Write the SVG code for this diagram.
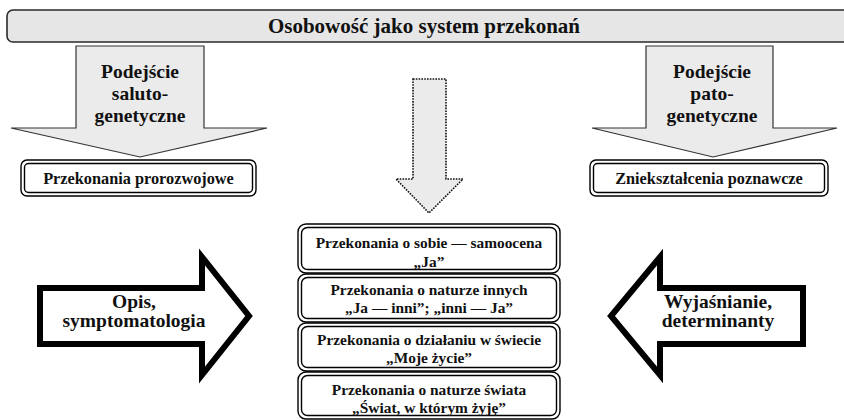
<svg xmlns="http://www.w3.org/2000/svg" width="844" height="420" viewBox="0 0 844 420">
  <style>
    text { font-family: "Liberation Serif", "DejaVu Serif", serif; font-weight: bold; fill: #111; text-anchor: middle; }
    .title { font-size: 21px; }
    .big { font-size: 19.5px; }
    .small { font-size: 16.3px; }
    .stack { font-size: 15.4px; }
    .grey-arrow { fill: #ebebeb; stroke: #333; stroke-width: 1.2; stroke-linejoin: miter; }
    .dotted-arrow { fill: #ebebeb; stroke: #111; stroke-width: 1.6; stroke-dasharray: 1.6 1.2; }
    .block-arrow { fill: #fff; stroke: #000; stroke-width: 6; stroke-linejoin: miter; stroke-miterlimit: 10; }
    .frame-out { fill: #fff; stroke: #000; stroke-width: 1.4; }
    .frame-in { fill: none; stroke: #000; stroke-width: 1.4; }
  </style>

  <!-- title bar -->
  <g id="title">
    <rect x="7" y="10" width="845" height="32" rx="6" fill="#e6e6e6" stroke="#2a2a2a" stroke-width="1.6"/>
    <text class="title" x="424" y="33">Osobowość jako system przekonań</text>
  </g>

  <!-- connectors: the large arrows -->
  <g id="connectors">
    <g id="arrow-saluto">
      <path class="grey-arrow" d="M76,46 L204,46 L204,128 L267,128 L140,157 L11,128 L76,128 Z"/>
      <text class="big" x="140" y="78">Podejście</text>
      <text class="big" x="140" y="100">saluto-</text>
      <text class="big" x="140" y="122">genetyczne</text>
    </g>
    <g id="arrow-pato">
      <path class="grey-arrow" d="M646,46 L773,46 L773,128 L837,128 L713,157 L592,128 L646,128 Z"/>
      <text class="big" x="712" y="78">Podejście</text>
      <text class="big" x="712" y="100">pato-</text>
      <text class="big" x="712" y="122">genetyczne</text>
    </g>
    <path id="arrow-center" class="dotted-arrow" d="M413,79 L446,79 L446,179 L463,179 L429,213 L396,179 L413,179 Z"/>
    <g id="arrow-opis">
      <path class="block-arrow" d="M40,288 L202,288 L202,257 L249,316 L202,375 L202,344 L40,344 Z"/>
      <text class="big" x="134" y="308">Opis,</text>
      <text class="big" x="134" y="327">symptomatologia</text>
    </g>
    <g id="arrow-wyjasnianie">
      <path class="block-arrow" d="M803,288 L660,288 L660,257 L611,316 L660,375 L660,344 L803,344 Z"/>
      <text class="big" x="718" y="308">Wyjaśnianie,</text>
      <text class="big" x="718" y="327">determinanty</text>
    </g>
  </g>

  <!-- side boxes -->
  <g id="box-prorozwojowe">
    <rect class="frame-out" x="21" y="160" width="235" height="36" rx="6"/>
    <rect class="frame-in" x="24.5" y="163.5" width="228" height="29" rx="4"/>
    <text class="small" x="138.5" y="183.5">Przekonania prorozwojowe</text>
  </g>
  <g id="box-znieksztalcenia">
    <rect class="frame-out" x="590" y="160" width="238" height="36" rx="6"/>
    <rect class="frame-in" x="593.5" y="163.5" width="231" height="29" rx="4"/>
    <text class="small" x="709" y="183.5">Zniekształcenia poznawcze</text>
  </g>

  <!-- central stack of beliefs -->
  <g id="box-ja">
    <rect class="frame-out" x="298" y="224" width="262" height="49" rx="8"/>
    <rect class="frame-in" x="301.5" y="227.5" width="255" height="42" rx="6"/>
    <text class="stack" x="429" y="248">Przekonania o sobie — samoocena</text>
    <text class="stack" x="429" y="267">„Ja”</text>
  </g>
  <g id="box-inni">
    <rect class="frame-out" x="298" y="274" width="262" height="48" rx="8"/>
    <rect class="frame-in" x="301.5" y="277.5" width="255" height="41" rx="6"/>
    <text class="stack" x="429" y="295">Przekonania o naturze innych</text>
    <text class="stack" x="429" y="313">„Ja — inni”; „inni — Ja”</text>
  </g>
  <g id="box-zycie">
    <rect class="frame-out" x="298" y="323" width="262" height="48" rx="8"/>
    <rect class="frame-in" x="301.5" y="326.5" width="255" height="41" rx="6"/>
    <text class="stack" x="429" y="345">Przekonania o działaniu w świecie</text>
    <text class="stack" x="429" y="363">„Moje życie”</text>
  </g>
  <g id="box-swiat">
    <rect class="frame-out" x="298" y="372" width="262" height="47" rx="8"/>
    <rect class="frame-in" x="301.5" y="375.5" width="255" height="40" rx="6"/>
    <text class="stack" x="429" y="395">Przekonania o naturze świata</text>
    <text class="stack" x="429" y="413">„Świat, w którym żyję”</text>
  </g>
</svg>
